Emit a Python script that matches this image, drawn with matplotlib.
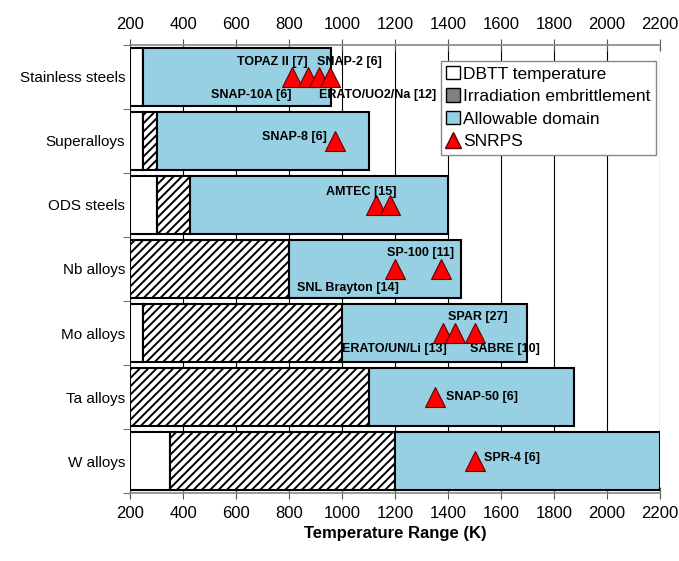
import numpy as np
import matplotlib.pyplot as plt
from matplotlib.patches import Patch
from matplotlib.lines import Line2D

plt.rcParams['font.family'] = ['Liberation Sans', 'DejaVu Sans']
plt.rcParams['hatch.linewidth'] = 1.4

# dados
materials = ['Stainless steels', 'Superalloys', 'ODS steels', 'Nb alloys',
             'Mo alloys', 'Ta alloys', 'W alloys']
dbtt_start = [200, 200, 200, 200, 200, 200, 200]
dbtt_end = [250, 250, 300, 200, 250, 200, 350]
irr_end = [250, 300, 425, 800, 1000, 1100, 1200]
allow_end = [960, 1100, 1400, 1450, 1700, 1875, 2200]

# SNRPS (indice do material, temperatura)
snrps_row = [0, 0, 0, 0, 1, 2, 2, 3, 3, 4, 4, 4, 5, 6]
snrps_temp = [810, 870, 915, 955, 975, 1130, 1180, 1200, 1375, 1380, 1425, 1500, 1350, 1500]

snrps_labels = ['TOPAZ II [7]', 'SNAP-2 [6]', 'SNAP-10A [6]', 'ERATO/UO2/Na [12]',
                'SNAP-8 [6]', 'AMTEC [15]', 'SP-100 [11]', 'SNL Brayton [14]',
                'SPAR [27]', 'ERATO/UN/Li [13]', 'SABRE [10]', 'SNAP-50 [6]', 'SPR-4 [6]']
label_pos = [(738, -0.23, 'center'), (1027, -0.23, 'center'), (657, 0.28, 'center'),
             (1136, 0.28, 'center'), (819, 0.94, 'center'), (1074, 1.80, 'center'),
             (1297, 2.75, 'center'), (1023, 3.30, 'center'), (1512, 3.75, 'center'),
             (1198, 4.25, 'center'), (1614, 4.25, 'center'), (1393, 5.0, 'left'),
             (1536, 5.95, 'left')]

blue = '#96D0E2'
y = np.arange(len(materials))
h = 0.92

fig = plt.figure(figsize=(6.79, 5.61), dpi=100)
ax = fig.add_axes([0.1915, 0.1212, 0.7805, 0.7986])

ax.set_axisbelow(True)
ax.grid(True, axis='x', color='black', lw=0.8)

# barras: DBTT, fragilizacao por irradiacao, dominio admissivel
ax.barh(y, np.array(dbtt_end) - np.array(dbtt_start), left=dbtt_start, height=h,
        color='white', edgecolor='black', lw=1.5, zorder=2)
ax.barh(y, np.array(irr_end) - np.array(dbtt_end), left=dbtt_end, height=h,
        color='white', edgecolor='black', hatch='////', lw=1.5, zorder=2)
ax.barh(y, np.array(allow_end) - np.array(irr_end), left=irr_end, height=h,
        color=blue, edgecolor='black', lw=1.5, zorder=2)

ax.plot(snrps_temp, snrps_row, ls='none', marker='^', ms=15, color='red',
        markeredgecolor='#600000', markeredgewidth=0.8, zorder=4)

for txt, (lx, ly, ha) in zip(snrps_labels, label_pos):
    ax.text(lx, ly, txt, ha=ha, va='center', fontsize=9, fontweight='bold', zorder=5)

ax.set_xlim(200, 2200)
ax.set_ylim(len(materials) - 0.5, -0.5)
ax.set_xticks(np.arange(200, 2201, 200))
ax.tick_params(axis='x', which='both', top=True, labeltop=True, direction='inout',
               length=8, labelsize=12, color='#555555', pad=5)
ax.set_yticks(y)
ax.set_yticklabels(materials, fontsize=11)
ax.set_yticks(np.arange(-0.5, len(materials), 1), minor=True)
ax.tick_params(axis='y', which='major', length=0)
ax.tick_params(axis='y', which='minor', length=5, color='#555555')

for s in ['left', 'right']:
    ax.spines[s].set_visible(False)
for s in ['top', 'bottom']:
    ax.spines[s].set_color('#888888')
    ax.spines[s].set_linewidth(1.2)

ax.set_xlabel('Temperature Range (K)', fontsize=12, fontweight='bold')

handles = [Patch(facecolor='white', edgecolor='black', label='DBTT temperature'),
           Patch(facecolor='#808080', edgecolor='black', label='Irradiation embrittlement'),
           Patch(facecolor=blue, edgecolor='black', label='Allowable domain'),
           Line2D([], [], ls='none', marker='^', ms=11, color='red',
                  markeredgecolor='#600000', label='SNRPS')]
leg = ax.legend(handles=handles, loc='upper right', bbox_to_anchor=(0.992, 0.965),
                fontsize=12.5, fancybox=False, framealpha=1, edgecolor='#888888',
                handlelength=0.8, handleheight=0.8, handletextpad=0.2,
                borderpad=0.3, labelspacing=0.4, borderaxespad=0)
leg.set_zorder(6)

plt.savefig('out.png', dpi=100)
